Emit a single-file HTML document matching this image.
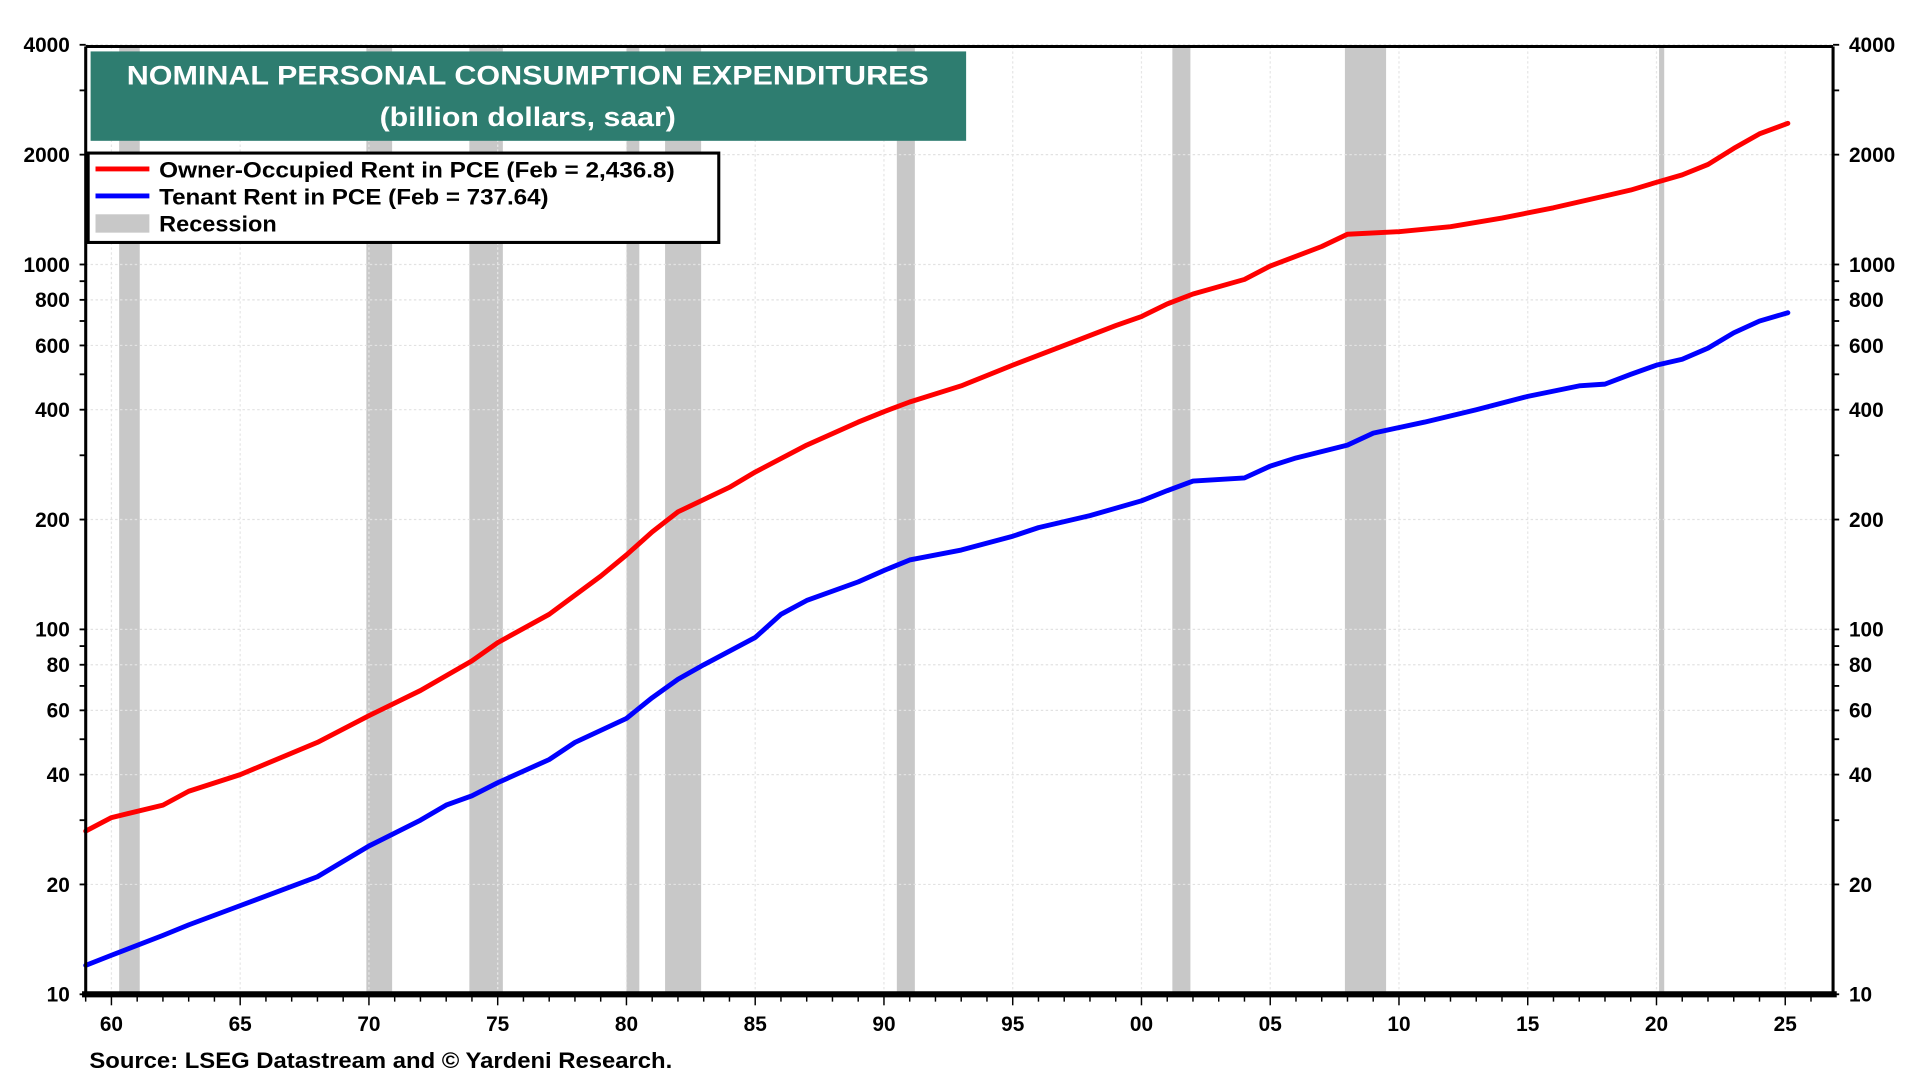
<!DOCTYPE html>
<html><head><meta charset="utf-8"><style>
html,body{margin:0;padding:0;background:#fff;}
svg{display:block;font-family:"Liberation Sans",Arial,sans-serif;font-weight:bold;}
</style></head><body>
<svg id="chart" width="1920" height="1080" viewBox="0 0 1568 882" preserveAspectRatio="none" xmlns="http://www.w3.org/2000/svg">
<g id="recessions"></g>
<g id="grid"></g>
<g id="series"></g>
<g id="axes"></g>
<g>
<rect x="74" y="42" width="715" height="73" fill="#2e7d70"/>
<text x="431" y="69" text-anchor="middle" font-size="22" fill="#fff" textLength="655" lengthAdjust="spacingAndGlyphs">NOMINAL PERSONAL CONSUMPTION EXPENDITURES</text>
<text x="431" y="103" text-anchor="middle" font-size="22" fill="#fff" textLength="242" lengthAdjust="spacingAndGlyphs">(billion dollars, saar)</text>
</g>
<g>
<rect x="72" y="125" width="515" height="73" fill="#fff" stroke="#000" stroke-width="2.5"/>
<g><line x1="78" y1="138" x2="122" y2="138" stroke="#ff0000" stroke-width="4"/><text x="130" y="145" font-size="18" textLength="421" lengthAdjust="spacingAndGlyphs">Owner-Occupied Rent in PCE  (Feb = 2,436.8)</text></g>
<g><line x1="78" y1="160" x2="122" y2="160" stroke="#0000ff" stroke-width="4"/><text x="130" y="167" font-size="18" textLength="318" lengthAdjust="spacingAndGlyphs">Tenant Rent in PCE (Feb = 737.64)</text></g>
<g><rect x="78" y="175" width="44" height="15" fill="#c8c8c8"/><text x="130" y="189" font-size="18" textLength="96" lengthAdjust="spacingAndGlyphs">Recession</text></g>
</g>
<text x="73" y="872" font-size="18" textLength="476" lengthAdjust="spacingAndGlyphs">Source: LSEG Datastream and © Yardeni Research.</text>
</svg>
<script>
const ownerYears=[1959,1960,1962,1963,1965,1968,1970,1972,1974,1975,1977,1979,1980,1981,1982,1984,1985,1987,1989,1990,1991,1993,1995,1997,1999,2000,2001,2002,2004,2005,2007,2008,2010,2012,2014,2016,2018,2019,2020,2021,2022,2023,2024,2025.1];
const ownerValues=[28,30.5,33,36,40,49,58,68,82,92,110,140,160,185,210,245,270,320,370,395,420,465,530,600,680,720,780,830,910,990,1120,1210,1230,1270,1340,1430,1540,1600,1680,1760,1880,2080,2280,2436.8];
const tenantYears=[1959,1960,1962,1963,1965,1968,1970,1972,1973,1974,1975,1977,1978,1980,1981,1982,1983,1985,1986,1987,1989,1990,1991,1993,1995,1996,1998,2000,2001,2002,2004,2005,2006,2008,2009,2011,2013,2015,2017,2018,2019,2020,2021,2022,2023,2024,2025.1];
const tenantValues=[12,12.8,14.5,15.5,17.5,21,25.5,30,33,35,38,44,49,57,65,73,80,95,110,120,135,145,155,165,180,190,205,225,240,255,260,280,295,320,345,370,400,435,465,470,500,530,550,590,650,700,737.64];
const recessionStarts=[1960.3,1969.9,1973.9,1980.0,1981.5,1990.5,2001.2,2007.9,2020.1];
const recessionEnds=[1961.1,1970.9,1975.2,1980.5,1982.9,1991.2,2001.9,2009.5,2020.3];
const yTickLabels=[10,20,40,60,80,100,200,400,600,800,1000,2000,4000];
const xTickYears=[1960,1965,1970,1975,1980,1985,1990,1995,2000,2005,2010,2015,2020,2025];

const L=70,R=1497,T=38,B=812;
const NS="http://www.w3.org/2000/svg";
function x(yr){return 91+(yr-1960)*21.03;}
function y(v){return B-(Math.log10(v)-1)*298;}
function mk(tag,attrs,parent){const e=document.createElementNS(NS,tag);for(const k in attrs)e.setAttribute(k,attrs[k]);parent.appendChild(e);return e;}
const rg=document.getElementById('recessions'),gg=document.getElementById('grid'),sg=document.getElementById('series'),ag=document.getElementById('axes');
recessionStarts.forEach((s,i)=>{
  const r=mk('rect',{x:x(s),y:T,width:x(recessionEnds[i])-x(s),height:B-T,fill:'#c8c8c8'},rg);
  
  
});
yTickLabels.forEach(v=>{
  const l=mk('line',{x1:L,x2:R,y1:y(v),y2:y(v),stroke:'#e2e2e2','stroke-width':1,'stroke-dasharray':'2,2'},gg);
  
  
});
xTickYears.forEach(yr=>{
  const l=mk('line',{x1:x(yr),x2:x(yr),y1:T,y2:B,stroke:'#e6e6e6','stroke-width':1,'stroke-dasharray':'2,2'},gg);
  
  
});
function line(xs,vs,color,name){
  const p=mk('polyline',{points:xs.map((a,i)=>x(a).toFixed(1)+','+y(vs[i]).toFixed(1)).join(' '),fill:'none',stroke:color,'stroke-width':4,'stroke-linejoin':'round','stroke-linecap':'round'},sg);
  
  
}
line(ownerYears,ownerValues,'#ff0000','owner-occupied-rent-line');
line(tenantYears,tenantValues,'#0000ff','tenant-rent-line');
mk('line',{x1:L,x2:R,y1:T,y2:T,stroke:'#000','stroke-width':2.5},ag);
mk('line',{x1:L,x2:L,y1:T,y2:B,stroke:'#000','stroke-width':2.5},ag);
mk('line',{x1:R,x2:R,y1:T,y2:B,stroke:'#000','stroke-width':2.5},ag);
mk('line',{x1:L-3,x2:R+3,y1:B,y2:B,stroke:'#000','stroke-width':5},ag);
[10,20,30,40,50,60,70,80,90,100,200,300,400,500,600,700,800,900,1000,2000,3000,4000].forEach(v=>{
  mk('line',{x1:L-5,x2:L,y1:y(v),y2:y(v),stroke:'#000','stroke-width':1.5},ag);
  mk('line',{x1:R,x2:R+5,y1:y(v),y2:y(v),stroke:'#000','stroke-width':1.5},ag);
});
yTickLabels.forEach(v=>{
  const t=mk('text',{x:L-13,y:y(v)+6,'text-anchor':'end','font-size':17},ag);t.textContent=v;
  
  
  const t2=mk('text',{x:R+13,y:y(v)+6,'text-anchor':'start','font-size':17},ag);t2.textContent=v;
  
  
});
for(let yr=1959;yr<=2026;yr++){
  mk('line',{x1:x(yr),x2:x(yr),y1:B,y2:B+(yr%5===0?9:6),stroke:'#000','stroke-width':1.2},ag);
}
xTickYears.forEach(yr=>{
  const t=mk('text',{x:x(yr),y:B+30,'text-anchor':'middle','font-size':17},ag);
  t.textContent=String(yr%100).padStart(2,'0');
  
  
});
</script>
</body></html>
